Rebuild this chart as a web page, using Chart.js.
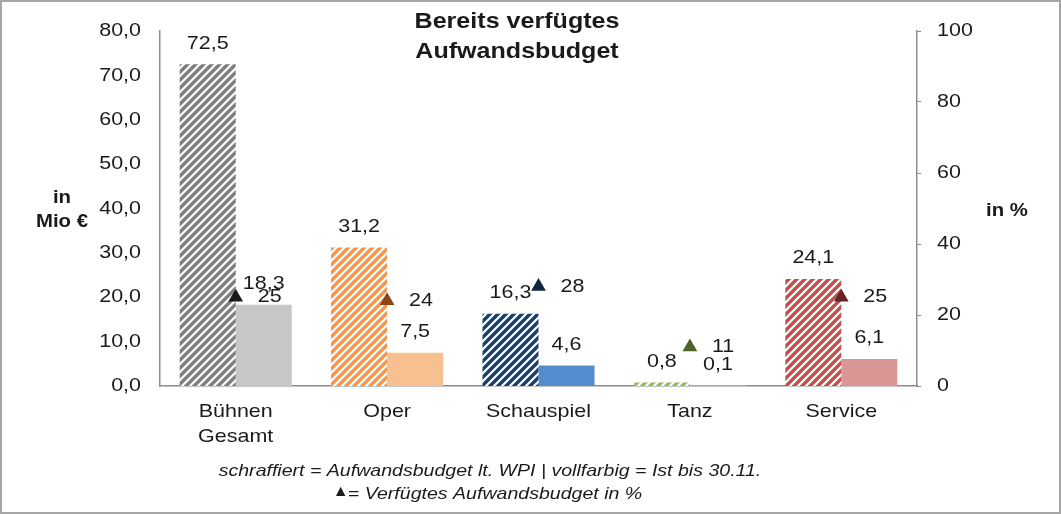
<!DOCTYPE html>
<html>
<head>
<meta charset="utf-8">
<script src="https://cdn.jsdelivr.net/npm/chart.js@4/dist/chart.umd.min.js"></script>
<style>
body { margin: 0; background: #fff; }
#wrap { width: 1061px; height: 514px; position: relative; }
</style>
</head>
<body>
<div id="wrap"><canvas id="budgetChart" width="1061" height="514"></canvas></div>
<script>
// Werte aus der Grafik
const categories = [['Bühnen', 'Gesamt'], 'Oper', 'Schauspiel', 'Tanz', 'Service'];
const budgetWPI = [72.5, 31.2, 16.3, 0.8, 24.1];
const istBis3011 = [18.3, 7.5, 4.6, 0.1, 6.1];
const verfuegtProzent = [25, 24, 28, 11, 25];
const leftTicks = [0, 10, 20, 30, 40, 50, 60, 70, 80];
const rightTicks = [0, 20, 40, 60, 80, 100];

const hatchColors = ['#7f7f7f', '#f79646', '#17406d', '#9bbb59', '#c0504d'];
const solidColors = ['#c6c7c8', '#f9c08f', '#558bcf', '#c3d69b', '#d99694'];
const triangleColors = ['#1a1a1a', '#8e4218', '#10253f', '#4f6228', '#632523'];

const FONT = '"Liberation Sans", Arial, Helvetica, sans-serif';
const STRETCH = 1.13; // Schrift im Original etwas breiter
const fmt = v => v.toFixed(1).replace('.', ',');

// schraffiertes Muster
function hatch(color) {
    const c = document.createElement('canvas');
    c.width = 8; c.height = 8;
    const g = c.getContext('2d');
    g.fillStyle = color;
    g.fillRect(0, 0, 8, 8);
    g.strokeStyle = '#ffffff';
    g.lineWidth = 2.2;
    g.beginPath();
    g.moveTo(-2, 10); g.lineTo(10, -2);
    g.moveTo(-6, 6); g.lineTo(6, -6);
    g.moveTo(2, 14); g.lineTo(14, 2);
    g.stroke();
    return g.createPattern(c, 'repeat');
}

function text(ctx, str, x, y, align, stretch) {
    ctx.save();
    ctx.translate(x, y);
    ctx.scale(stretch || STRETCH, 1);
    ctx.textAlign = align || 'center';
    ctx.fillText(str, 0, 0);
    ctx.restore();
}

const textPlugin = {
    id: 'texts',
    afterDraw(chart) {
        const ctx = chart.ctx;
        ctx.save();
        ctx.fillStyle = '#1a1a1a';
        ctx.textBaseline = 'middle';

        // Achsenbeschriftungen
        ctx.font = '19px ' + FONT;
        const sy = chart.scales.y, sy2 = chart.scales.y2, sx = chart.scales.x;
        leftTicks.forEach(v => text(ctx, fmt(v), 141, sy.getPixelForValue(v), 'right'));
        rightTicks.forEach(v => text(ctx, String(v), 937, sy2.getPixelForValue(v), 'left'));
        categories.forEach((c, i) => {
            const lines = Array.isArray(c) ? c : [c];
            lines.forEach((l, j) => text(ctx, l, sx.getPixelForValue(i), 412 + j * 25));
        });

        // Werte an den Balken
        [0, 1].forEach(di => {
            const ds = chart.data.datasets[di];
            chart.getDatasetMeta(di).data.forEach((el, i) => {
                text(ctx, fmt(ds.data[i]), el.x, el.y - 21);
            });
        });
        // Prozentwerte an den Dreiecken
        chart.getDatasetMeta(2).data.forEach((el, i) => {
            text(ctx, String(verfuegtProzent[i]), el.x + 22, el.y, 'left');
        });

        // Titel
        ctx.font = 'bold 22px ' + FONT;
        text(ctx, 'Bereits verfügtes', 517, 22, 'center', 1.14);
        text(ctx, 'Aufwandsbudget', 517, 52, 'center', 1.14);

        // Achsentitel
        ctx.font = 'bold 18px ' + FONT;
        text(ctx, 'in', 62, 198);
        text(ctx, 'Mio €', 62, 222);
        text(ctx, 'in %', 1007, 211);

        // Fußnote
        ctx.font = 'italic 17px ' + FONT;
        text(ctx, 'schraffiert = Aufwandsbudget lt. WPI | vollfarbig = Ist bis 30.11.', 490, 471, 'center', 1.15);
        const line2 = '= Verfügtes Aufwandsbudget in %';
        const w2 = ctx.measureText(line2).width * 1.15;
        const x0 = 488 - (w2 + 14) / 2;
        text(ctx, line2, x0 + 14, 494, 'left', 1.15);
        ctx.font = '16px ' + FONT;
        text(ctx, '▲', x0 - 1, 492, 'left', 1);

        // Rahmen
        ctx.strokeStyle = '#a6a6a6';
        ctx.lineWidth = 2;
        ctx.strokeRect(1, 1, 1059, 512);
        ctx.restore();
    }
};

const ctx = document.getElementById('budgetChart').getContext('2d');

new Chart(ctx, {
    data: {
        labels: categories,
        datasets: [{
            type: 'bar',
            label: 'Aufwandsbudget lt. WPI',
            data: budgetWPI,
            backgroundColor: hatchColors.map(hatch),
            yAxisID: 'y',
            order: 2,
            categoryPercentage: 0.74,
            barPercentage: 1
        }, {
            type: 'bar',
            label: 'Ist bis 30.11.',
            data: istBis3011,
            backgroundColor: solidColors,
            yAxisID: 'y',
            order: 2,
            categoryPercentage: 0.74,
            barPercentage: 1
        }, {
            type: 'line',
            label: 'Verfügtes Aufwandsbudget in %',
            data: verfuegtProzent,
            yAxisID: 'y2',
            showLine: false,
            order: 0,
            pointStyle: 'triangle',
            pointRadius: 8.5,
            pointHoverRadius: 8.5,
            pointBackgroundColor: triangleColors,
            pointBorderColor: triangleColors,
            pointBorderWidth: 0
        }]
    },
    options: {
        responsive: false,
        animation: false,
        layout: { padding: { top: 31, left: 0, right: 0, bottom: 0 } },
        plugins: {
            legend: { display: false },
            title: { display: false },
            tooltip: { enabled: false }
        },
        scales: {
            x: {
                grid: { display: false },
                border: { display: true, color: '#8c8c8c', width: 1.5 },
                ticks: { display: false },
                afterFit: s => { s.height = 128; }
            },
            y: {
                position: 'left',
                min: 0,
                max: 80,
                afterBuildTicks: s => { s.ticks = leftTicks.map(v => ({ value: v })); },
                grid: { display: false },
                border: { display: true, color: '#8c8c8c', width: 1.5 },
                ticks: { display: false },
                afterFit: s => { s.width = 160; }
            },
            y2: {
                position: 'right',
                min: 0,
                max: 100,
                afterBuildTicks: s => { s.ticks = rightTicks.map(v => ({ value: v })); },
                grid: { drawOnChartArea: false, drawTicks: true, tickLength: 4, color: '#8c8c8c' },
                border: { display: true, color: '#8c8c8c', width: 1.5 },
                ticks: { display: false },
                afterFit: s => { s.width = 144; }
            }
        }
    },
    plugins: [textPlugin]
});
</script>
</body>
</html>
